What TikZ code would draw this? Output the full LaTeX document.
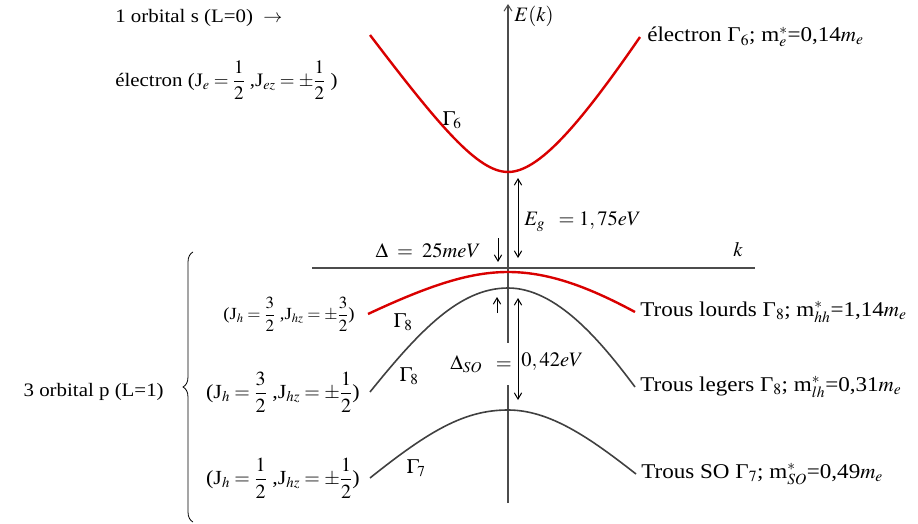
\documentclass[tikz,border=0pt]{standalone}
\usepackage{amsmath}
\usepackage{mathptmx}
\usepackage{fontspec}
\setmainfont[FakeStretch=1.1]{Liberation Serif}
\usetikzlibrary{positioning,arrows.meta,calc,decorations.pathreplacing}
\tikzset{
  every picture/.style={line width=0.6pt},
  axis/.style={draw=black!70,line width=1.8pt},
  cband/.style={draw=red!85!black,line width=2.4pt},
  vband/.style={draw=black!75,line width=1.6pt},
  lbl/.style={font=\fontsize{19}{22}\selectfont,inner sep=1pt},
  jlbl/.style={font=\fontsize{20}{23}\selectfont,inner sep=1pt},
  rlbl/.style={font=\fontsize{21}{24}\selectfont,inner sep=1pt},
  mlbl/.style={font=\fontsize{20.5}{24}\selectfont,inner sep=1pt},
  small/.style={font=\fontsize{17}{20}\selectfont,inner sep=1pt},
  gap/.style={{Straight Barb[length=2.2mm,width=2.6mm]}-{Straight Barb[length=2.2mm,width=2.6mm]},line width=1pt},
  tip/.style={-{Straight Barb[length=2.2mm,width=2.6mm]},line width=1pt},
}

\begin{document}
\begin{tikzpicture}[x=1pt,y=-1pt]
\useasboundingbox (0,0) rectangle (918,524);
% axes
\coordinate (Etop) at (508,4);
\coordinate (Ebot) at (508,503);
\coordinate (kL) at (312,268);
\coordinate (kR) at (755,268);
\draw[axis,-{Straight Barb[length=2.2mm,width=2.8mm,line width=1pt]}] (Ebot) -- (Etop);
\draw[axis] (kL) -- (kR);
\node[mlbl,anchor=west] (Ek) at (513,16) {$E(k)$};
\node[mlbl] (klab) at (738,250) {$k$};
% split-off gap label (hides the axis)
\node[mlbl,anchor=east,fill=white,inner xsep=1pt,inner ysep=12pt] (dso) at (513,364) {$\Delta_{SO}\;\;=$};
\node[mlbl,anchor=west] (dsoval) at (520,362) {$0,42eV$};
% band ends
\coordinate (cL) at (370,35);
\coordinate (cmin) at (508,172);
\coordinate (cR) at (640,37);
\coordinate (hhL) at (368,314);
\coordinate (hhtop) at (508,272);
\coordinate (hhR) at (635,312);
\coordinate (lhL) at (370,392);
\coordinate (lhtop) at (508,288);
\coordinate (lhR) at (635,387);
\coordinate (soL) at (370,478);
\coordinate (sotop) at (508,410);
\coordinate (soR) at (636,474);
% conduction band
\draw[cband] (cL) .. controls (440,127) and (478,172) .. (cmin) .. controls (538,172) and (578,127) .. (cR);
% heavy holes
\draw[cband] (hhL) .. controls (430,285) and (470,272) .. (hhtop) .. controls (546,272) and (585,285) .. (hhR);
% light holes
\draw[vband] (lhL) .. controls (420,330) and (460,288) .. (lhtop) .. controls (556,288) and (600,340) .. (lhR);
% split-off
\draw[vband] (soL) .. controls (430,430) and (465,410) .. (sotop) .. controls (550,410) and (590,438) .. (soR);
\node[mlbl] (g6) at (452,120) {$\Gamma_{\!6}$};
\node[mlbl] (g8a) at (403,322) {$\Gamma_{\!8}$};
\node[mlbl] (g8b) at (409,376) {$\Gamma_{\!8}$};
\node[mlbl] (g7) at (416,468) {$\Gamma_{\!7}$};
% gaps
\coordinate (egT) at (518,178);
\coordinate (egB) at (518,258);
\draw[gap] (egB) -- (egT);
\node[mlbl,anchor=west] (eg) at (523,222) {$E_{g}\;\;=1,75eV$};
\coordinate (dA) at (498,238);
\coordinate (dB) at (498,262);
\draw[tip] (dA) -- (dB);
\node[mlbl,anchor=east] (dlab) at (482,251) {$\Delta\;=\;25meV$};
\coordinate (dC) at (497,313);
\coordinate (dD) at (497,297);
\draw[tip] (dC) -- (dD);
\coordinate (soT) at (518,298);
\coordinate (soB) at (518,400);
\draw[gap] (soT) -- (soB);
% right labels
\node[rlbl,right=6pt of cR] (elab) {électron Γ$_6$; m$^{*}_{e}$=0,14$m_e$};
\node[rlbl,right=4pt of hhR] (hhlab) {Trous lourds Γ$_8$; m$^{*}_{hh}$=1,14$m_e$};
\node[rlbl,right=4pt of lhR] (lhlab) {Trous legers Γ$_8$; m$^{*}_{lh}$=0,31$m_e$};
\node[rlbl,right=4pt of soR] (solab) {Trous SO Γ$_7$; m$^{*}_{SO}$=0,49$m_e$};
% left labels
\node[lbl,anchor=west] (sorb) at (114,18) {1 orbital s (L=0) \ $\rightarrow$};
\node[lbl,anchor=west] (elec) at (114,80) {électron (J$_{e}=\dfrac{1}{2}$ ,J$_{ez}=\pm\dfrac{1}{2}$ )};
\node[small,left=12pt of hhL] (jhh) {(J$_{h}=\dfrac{3}{2}$ ,J$_{hz}=\pm\dfrac{3}{2}$)};
\node[jlbl,left=9pt of lhL] (jlh) {(J$_{h}=\dfrac{3}{2}$ ,J$_{hz}=\pm\dfrac{1}{2}$)};
\node[jlbl,left=9pt of soL] (jso) {(J$_{h}=\dfrac{1}{2}$ ,J$_{hz}=\pm\dfrac{1}{2}$)};
\coordinate (brB) at (193,522);
\coordinate (brT) at (193,252);
\draw[decorate,decoration={brace,amplitude=10pt},line width=0.8pt] (brB) -- (brT);
\node[lbl,anchor=east] (porb) at (165,392) {3 orbital p (L=1)};
\end{tikzpicture}
\end{document}
